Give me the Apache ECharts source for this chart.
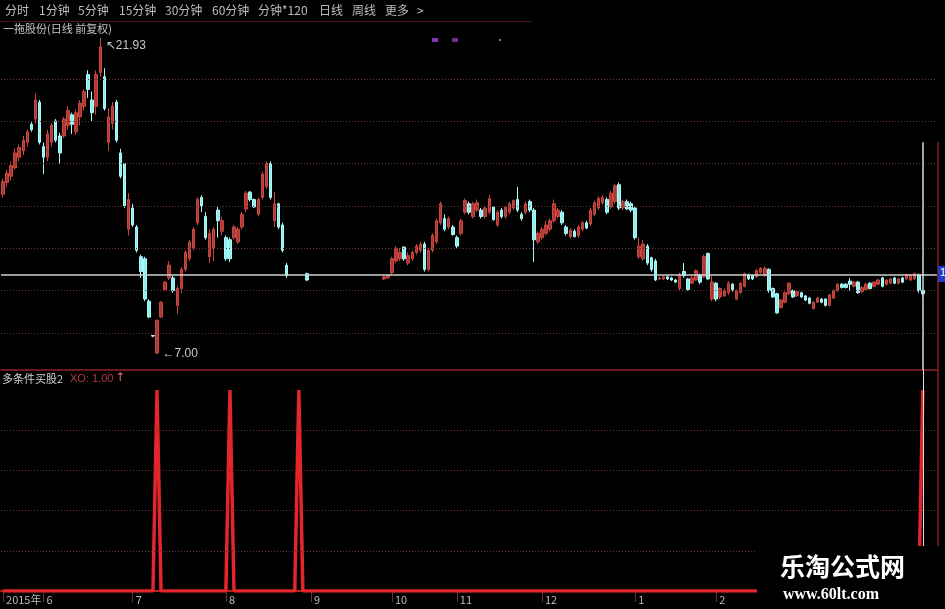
<!DOCTYPE html>
<html><head><meta charset="utf-8">
<script src="https://cdn.jsdelivr.net/npm/echarts@6/dist/echarts.min.js"></script>
<style>html,body{margin:0;padding:0;background:#000;}#c{width:945px;height:609px;}</style>
</head><body><div id="c"></div>
<script>
// ---------- DATA ----------
const GAP = ['-', '-', '-', '-'];
// [open, close, low, high] per trading-day slot
const candles = [
 [14.55,15.15,14.40,15.30],[15.10,15.55,14.90,15.70],[15.40,15.90,15.20,16.10],[15.80,16.50,15.70,16.70],[16.30,16.75,16.10,16.90],
 [16.60,17.10,16.40,17.30],[17.00,17.50,16.80,17.60],[17.85,17.60,17.50,17.95],[18.10,19.00,17.90,19.30],[18.90,17.00,16.90,19.00],
 [16.80,16.30,15.50,17.00],[16.30,17.40,16.10,17.60],[17.00,17.80,16.80,17.90],[18.00,17.10,17.00,18.10],[17.30,16.50,16.00,17.45],
 [17.30,18.10,17.20,18.20],[17.80,18.50,17.60,18.70],[18.30,17.85,17.40,18.40],[17.50,18.40,17.35,18.55],[18.20,18.85,17.80,19.00],
 [18.70,19.40,18.50,19.50],[20.20,19.50,19.10,20.40],[19.00,18.40,18.00,19.40],[18.70,20.20,18.30,20.40],[20.30,21.50,20.10,21.93],
 [20.10,18.60,18.50,20.50],[17.00,18.20,16.60,18.60],[17.90,18.70,17.60,18.90],[18.90,17.10,17.00,19.00],[16.50,15.40,15.30,16.70],
 [16.00,14.00,13.90,16.00],[12.90,14.30,12.60,14.60],[13.90,13.10,13.00,14.10],[13.00,11.90,11.80,13.10],[11.60,10.90,10.60,11.70],
 [11.50,9.60,9.50,11.60],[9.50,8.75,8.70,9.60],[7.88,7.85,7.80,7.90],[7.05,8.60,7.00,8.62],[8.75,9.45,8.70,9.50],
 [10.05,10.40,10.00,10.45],[10.60,11.20,10.50,11.40],[10.60,10.00,9.90,10.70],[9.30,10.10,8.90,10.20],[10.10,11.00,9.90,11.10],
 [11.00,11.80,10.90,11.90],[11.50,12.30,11.40,12.40],[12.00,12.90,11.90,13.00],[13.20,14.30,13.10,14.40],[14.40,14.00,13.70,14.50],
 [13.50,12.50,12.40,13.70],[11.60,12.70,11.30,12.90],[12.00,12.90,11.40,13.00],[13.80,13.30,12.50,14.00],[12.80,13.30,12.60,13.50],
 [12.50,11.50,11.40,12.60],[12.40,11.50,11.35,12.50],[12.50,13.00,12.40,13.10],[12.30,12.90,12.20,13.00],[13.00,13.60,12.90,13.70],
 [13.85,14.60,13.70,14.70],[14.65,14.30,14.20,14.70],[14.30,13.95,13.90,14.35],[13.60,14.30,13.50,14.40],[14.40,15.50,14.30,15.60],
 [14.90,16.00,14.80,16.10],[16.00,14.40,14.30,16.10],[13.30,14.10,13.00,14.65],[14.10,13.00,12.90,14.15],[13.10,11.90,11.80,13.20],
 [11.20,10.70,10.60,11.30],GAP,GAP,GAP,GAP,
 [10.80,10.50,10.45,10.85],GAP,GAP,GAP,GAP,
 GAP,GAP,GAP,GAP,GAP,
 GAP,GAP,GAP,GAP,GAP,
 GAP,GAP,GAP,GAP,
 [10.55,10.65,10.50,10.70],[10.60,10.72,10.55,10.78],[10.85,11.50,10.70,11.60],[11.40,12.00,11.30,12.10],[11.50,11.80,11.40,12.00],
 [12.05,11.50,11.40,12.10],[11.30,11.65,11.20,11.80],[11.50,11.80,11.40,11.90],[11.80,12.10,11.70,12.20],[11.90,12.20,11.80,12.30],
 [12.20,11.00,10.90,12.30],[11.00,11.90,10.90,12.00],[11.90,12.60,11.80,12.70],[12.30,13.30,12.20,13.40],[13.20,14.10,13.10,14.20],
 [13.40,12.90,12.80,13.60],[13.00,13.40,12.90,13.50],[13.00,12.65,12.60,13.10],[12.50,12.10,12.00,12.60],[12.70,13.30,12.60,13.40],
 [13.70,14.25,13.60,14.35],[14.10,13.70,13.60,14.20],[13.50,14.10,13.40,14.20],[13.80,14.15,13.70,14.30],[13.80,13.50,13.40,13.90],
 [13.50,13.90,13.40,14.00],[13.70,14.35,13.60,14.50],[13.95,13.35,13.30,14.00],[13.10,13.70,13.00,13.80],[13.80,13.50,13.40,13.90],
 [13.50,13.95,13.40,14.00],[13.70,14.10,13.60,14.20],[13.90,14.25,13.80,14.30],[14.30,13.80,13.70,14.90],[13.60,13.40,13.30,13.70],
 [13.70,14.10,13.60,14.20],[14.20,13.80,13.70,14.30],[13.80,12.40,11.35,13.90],[12.30,12.70,12.20,12.80],[12.50,12.90,12.40,13.00],
 [12.70,13.10,12.60,13.30],[12.90,13.30,12.80,13.40],[13.30,14.10,13.20,14.30],[13.50,13.80,13.40,13.90],[13.70,13.20,13.10,13.80],
 [13.00,12.70,12.60,13.10],[12.55,12.85,12.45,12.95],[12.80,12.55,12.50,12.90],[12.60,13.00,12.50,13.10],[12.90,13.20,12.80,13.30],
 [13.20,12.95,12.90,13.30],[13.15,13.80,13.05,13.90],[13.60,14.15,13.50,14.25],[13.90,14.35,13.80,14.45],[14.15,14.40,14.05,14.50],
 [14.30,13.70,13.60,14.40],[13.95,14.60,13.85,14.70],[14.20,14.95,14.10,15.05],[15.00,13.90,13.80,15.10],[13.90,14.20,13.80,14.30],
 [14.20,13.85,13.80,14.30],[14.10,13.80,13.70,14.20],[13.90,12.50,12.40,14.00],[11.60,12.10,11.50,12.50],[11.50,12.20,11.40,12.40],
 [12.10,11.30,11.20,12.20],[11.55,11.00,10.90,11.60],[11.40,10.50,10.45,11.50],[10.55,10.60,10.50,10.65],[10.55,10.65,10.50,10.70],
 [10.65,10.55,10.50,10.70],[10.60,10.50,10.45,10.65],[10.50,10.40,10.35,10.55],[10.10,10.75,10.00,10.85],[10.90,10.70,10.60,11.30],
 [10.55,10.05,10.00,10.60],[10.35,10.60,10.30,10.70],[10.50,10.95,10.45,11.00],[10.75,10.40,10.30,10.80],[10.65,11.60,10.60,11.70],
 [11.75,10.55,10.50,11.80],[9.60,10.40,9.50,10.70],[10.35,9.60,9.50,10.40],[9.70,10.10,9.60,10.15],[9.75,10.00,9.70,10.10],
 [9.90,10.35,9.80,10.45],[10.30,10.05,9.95,10.35],[9.60,10.00,9.55,10.05],[9.90,10.35,9.85,10.40],[10.20,10.80,10.15,10.85],
 [10.75,10.55,10.50,10.80],[10.70,10.55,10.50,10.75],[10.65,10.95,10.60,11.00],[10.85,11.05,10.80,11.10],[10.70,11.05,10.65,11.15],
 [11.00,10.00,9.90,11.05],[10.10,9.70,9.65,10.15],[9.85,8.95,8.90,9.90],[9.20,9.55,9.15,9.60],[9.45,9.90,9.40,9.95],
 [9.85,10.35,9.80,10.40],[10.00,9.70,9.65,10.05],[9.75,9.95,9.70,10.00],[9.90,9.70,9.65,9.95],[9.75,9.55,9.50,9.80],
 [9.65,9.40,9.35,9.70],[9.15,9.45,9.10,9.50],[9.45,9.65,9.40,9.70],[9.60,9.45,9.40,9.65],[9.60,9.30,9.25,9.65],
 [9.30,9.80,9.25,9.85],[9.65,10.00,9.60,10.05],[10.00,10.30,9.95,10.35],[10.30,10.15,10.10,10.35],[10.30,10.15,10.10,10.35],
 [10.45,10.30,10.00,10.60],[10.20,10.40,10.15,10.45],[10.40,9.90,9.85,10.45],[9.95,10.15,9.90,10.20],[10.05,10.30,10.00,10.35],
 [10.35,10.10,10.05,10.40],[10.20,10.40,10.15,10.45],[10.30,10.50,10.25,10.55],[10.60,10.20,10.15,10.65],[10.30,10.50,10.25,10.55],
 [10.35,10.55,10.30,10.60],[10.60,10.35,10.30,10.65],[10.35,10.55,10.30,10.60],[10.60,10.40,10.35,10.65],[10.55,10.75,10.50,10.80],
 [10.50,10.70,10.45,10.75],[10.55,10.80,10.50,10.85],[10.75,10.00,9.90,10.80],[10.00,9.85,9.70,10.05],GAP,
 GAP,GAP
];
// indicator 多条件买股2 (XO), one value per slot
const signal = [
 0,0,0,0,0,0,0,0,0,0,0,0,0,0,0,0,0,0,0,0,
 0,0,0,0,0,0,0,0,0,0,0,0,0,0,0,0,0,0,1,0,
 0,0,0,0,0,0,0,0,0,0,0,0,0,0,0,0,1,0,0,0,
 0,0,0,0,0,0,0,0,0,0,0,0,0,1,0,0,0,0,0,0,
 0,0,0,0,0,0,0,0,0,0,0,0,0,0,0,0,0,0,0,0,
 0,0,0,0,0,0,0,0,0,0,0,0,0,0,0,0,0,0,0,0,
 0,0,0,0,0,0,0,0,0,0,0,0,0,0,0,0,0,0,0,0,
 0,0,0,0,0,0,0,0,0,0,0,0,0,0,0,0,0,0,0,0,
 0,0,0,0,0,0,0,0,0,0,0,0,0,0,0,0,0,0,0,0,
 0,0,0,0,0,0,0,0,0,0,0,0,0,0,0,0,0,0,0,0,
 0,0,0,0,0,0,0,0,0,0,0,0,0,0,0,0,0,0,0,0,
 0,0,0,0,0,0,0,1,'-','-','-'
];
const monthTicks = {0:'2015年', 10:'6', 32:'7', 55:'8', 76:'9', 96:'10', 112:'11', 133:'12', 156:'1', 176:'2'};
const priceGridLevels = [8, 10, 12, 14, 16, 18, 20];
const signalGridLevels = [0.2, 0.4, 0.6, 0.8];
const refPrice = 10.74;
const cursorIndex = 227;
const cursorTopPrice = 17.0;
const priceMin = 6.25, priceMax = 22.4;
const tabs = ['分时','1分钟','5分钟','15分钟','30分钟','60分钟','分钟*120','日线','周线','更多','>'];
const tabX = [5, 39, 78, 119, 165, 212, 258, 319, 352, 385, 417];

const slots = candles.map((_, i) => String(i));

// ---------- CHART ----------
const chart = echarts.init(document.getElementById('c'), null, {renderer: 'canvas'});
const cjk = '"Noto Sans CJK SC", "Noto Sans", sans-serif';
const dotted = {type: [1, 2], color: '#6a3030', width: 1};

const graphics = [];
tabs.forEach((t, i) => graphics.push({type: 'text', left: tabX[i], top: 4, z: 10,
  style: {text: t, fill: '#bdbdbd', font: '12px ' + cjk}}));
graphics.push(
  {type: 'rect', shape: {x: 534, y: 0, width: 411, height: 141}, style: {fill: '#000'}, z: 5},
  {type: 'line', shape: {x1: 0, y1: 21.5, x2: 532, y2: 21.5}, style: {stroke: '#4a1212', lineWidth: 1}, z: 10},
  {type: 'text', left: 3, top: 23, z: 10, style: {text: '一拖股份(日线 前复权)', fill: '#c4c4c4', font: '11px ' + cjk}},
  {type: 'rect', shape: {x: 432, y: 38, width: 6, height: 4}, style: {fill: '#7a3aa8'}, z: 10},
  {type: 'rect', shape: {x: 452, y: 38, width: 6, height: 4}, style: {fill: '#6a3090'}, z: 10},
  {type: 'rect', shape: {x: 499, y: 39, width: 2, height: 2}, style: {fill: '#8a6aa0'}, z: 10},
  {type: 'line', shape: {x1: 938, y1: 142, x2: 938, y2: 546}, style: {stroke: '#8a1e1e', lineWidth: 1.5}, z: 10},
  {type: 'rect', shape: {x: 938, y: 266, width: 7, height: 16}, style: {fill: '#1e3cc8'}, z: 11},
  {type: 'text', left: 940, top: 267, z: 12, style: {text: '1', fill: '#ffffff', font: '11px "Liberation Sans"'}},
  {type: 'text', left: 2, top: 373, z: 10, style: {text: '多条件买股2', fill: '#cfcfcf', font: '11px ' + cjk}},
  {type: 'text', left: 70, top: 373, z: 10, style: {text: 'XO: 1.00', fill: '#b23a3a', font: '11px "Liberation Sans"'}},
  {type: 'text', left: 115, top: 372, z: 10, style: {text: '↑', fill: '#e07070', font: '12px "DejaVu Sans"'}},
  {type: 'rect', shape: {x: 757, y: 546, width: 188, height: 63}, style: {fill: '#000'}, z: 20},
  {type: 'text', left: 780, top: 554, z: 21, style: {text: '乐淘公式网', fill: '#ffffff', font: 'bold 25px ' + cjk}},
  {type: 'text', left: 783, top: 587, z: 21, style: {text: 'www.60lt.com', fill: '#ffffff', font: 'bold 16px "Liberation Serif", serif'}}
);

const priceLines = priceGridLevels.map(v => ({yAxis: v, lineStyle: dotted}));
priceLines.push({yAxis: refPrice, lineStyle: {type: 'solid', color: '#cfcfcf', width: 1.5}});
priceLines.push([{coord: [slots[cursorIndex], cursorTopPrice], lineStyle: {type: 'solid', color: '#d8d8d8', width: 1.5}}, {coord: [slots[cursorIndex], priceMin]}]);

const sigLines = signalGridLevels.map(v => ({yAxis: v, lineStyle: dotted}));
sigLines.push({xAxis: slots[cursorIndex], lineStyle: {type: 'solid', color: '#e0e0e0', width: 1}});

chart.setOption({
  backgroundColor: '#000',
  animation: false,
  grid: [
    {left: 1, right: 8, top: 28, height: 342},
    {left: 1, right: 8, top: 370, height: 221}
  ],
  xAxis: [
    {type: 'category', gridIndex: 0, data: slots, boundaryGap: true,
     axisLine: {show: true, lineStyle: {color: '#6e1a1a', width: 2}},
     axisTick: {show: false}, axisLabel: {show: false}, splitLine: {show: false}},
    {type: 'category', gridIndex: 1, data: slots, boundaryGap: true,
     axisLine: {show: true, lineStyle: {color: '#b81e1e', width: 2}},
     axisTick: {show: true, alignWithLabel: true, length: 11, interval: (i) => i in monthTicks, lineStyle: {color: '#7a2c2c'}},
     axisLabel: {show: true, interval: (i) => i in monthTicks, formatter: (v, i) => monthTicks[i] || '',
       align: 'left', padding: [0, 0, 0, 3], margin: 3, color: '#b8b8b8', fontSize: 11, fontFamily: cjk},
     splitLine: {show: false}}
  ],
  yAxis: [
    {type: 'value', gridIndex: 0, min: priceMin, max: priceMax, show: false},
    {type: 'value', gridIndex: 1, min: 0, max: 1.1, show: false}
  ],
  series: [
    {type: 'candlestick', xAxisIndex: 0, yAxisIndex: 0, data: candles, barWidth: 3,
     itemStyle: {color: '#a83a36', color0: '#8eeeee', borderColor: '#cc4640', borderColor0: '#a8f8f8', borderWidth: 1},
     markLine: {silent: true, symbol: ['none', 'none'], label: {show: false}, animation: false, data: priceLines},
     markPoint: {silent: true, symbol: 'circle', symbolSize: 1, itemStyle: {color: 'rgba(0,0,0,0)'},
       label: {show: true, position: 'right', color: '#c8c8c8', fontSize: 12, fontFamily: '"Liberation Sans", "DejaVu Sans"'},
       data: [
         {type: 'max', valueDim: 'highest', label: {formatter: p => '↖' + Number(p.value).toFixed(2), offset: [0, 8]}},
         {type: 'min', valueDim: 'lowest', label: {formatter: p => '←' + Number(p.value).toFixed(2), offset: [0, 0]}}
       ]}
    },
    {type: 'line', xAxisIndex: 1, yAxisIndex: 1, data: signal, symbol: 'none',
     lineStyle: {color: '#e2262a', width: 3.5},
     markLine: {silent: true, symbol: ['none', 'none'], label: {show: false}, animation: false, data: sigLines}}
  ],
  graphic: graphics
});
</script></body></html>
